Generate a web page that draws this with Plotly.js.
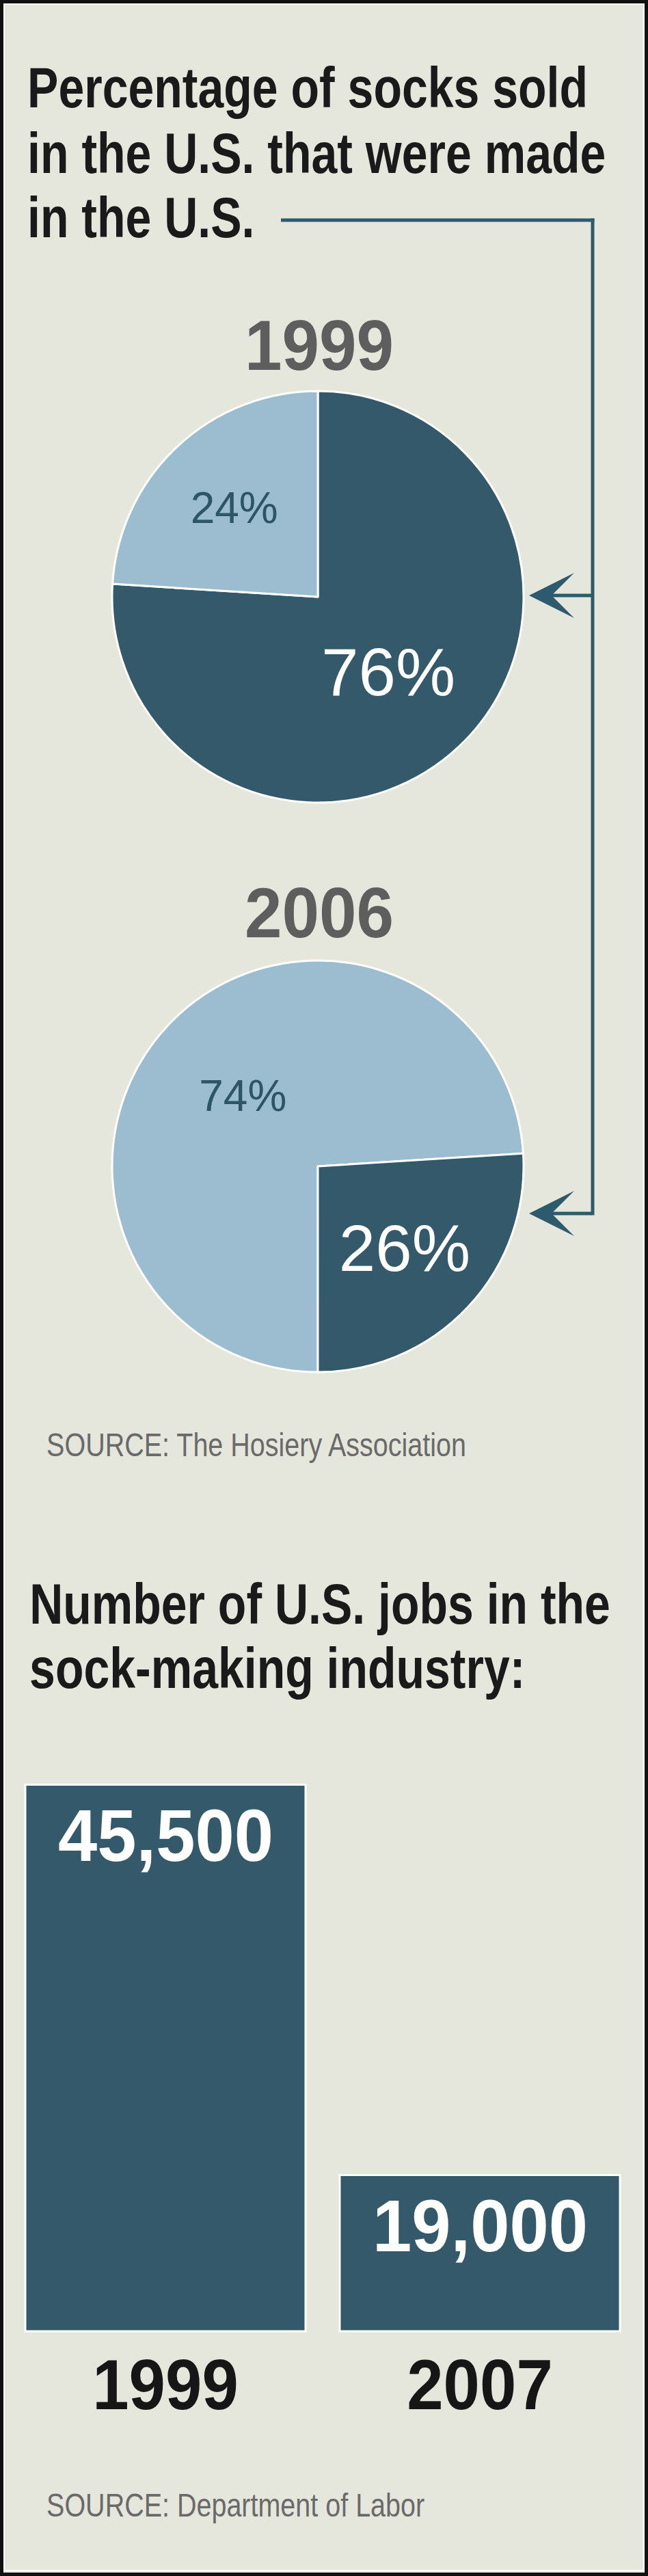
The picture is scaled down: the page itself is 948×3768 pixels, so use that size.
<!DOCTYPE html>
<html>
<head>
<meta charset="utf-8">
<script src="https://cdn.plot.ly/plotly-3.0.1.min.js"></script>
<style>
html,body{margin:0;padding:0;background:#e5e6dc;}
#chart{width:948px;height:3768px;}
</style>
</head>
<body>
<div id="chart"></div>
<script>
// ---------- data ----------
const pieLabels = ['Made in the U.S.', 'Imported'];
const pie1999 = [76, 24];
const pie2006 = [26, 74];
const pieYears = ['1999', '2006'];
const jobYears = ['1999', '2007'];
const jobs = [45500, 19000];
const jobLabels = ['45,500', '19,000'];
const title1Lines = ['Percentage of socks sold', 'in the U.S. that were made', 'in the U.S.'];
const title2Lines = ['Number of U.S. jobs in the', 'sock-making industry:'];
const source1 = 'SOURCE: The Hosiery Association';
const source2 = 'SOURCE: Department of Labor';

// ---------- styling ----------
const W = 948, H = 3768;
const X = p => p / W;
const Y = p => 1 - p / H;
const BG = '#e5e6dc';
const DARK = '#33596a';
const LIGHT = '#9bbdcf';
const LINE = '#2d5a6d';
const SANS = 'Liberation Sans, Arial, sans-serif';
const BAR_BASE = 8400; // truncated axis floor, as in the original graphic

const pieCommon = {
  type: 'pie', sort: false,
  textinfo: 'percent', textposition: 'inside', insidetextorientation: 'horizontal',
  hoverinfo: 'none', showlegend: false
};

const traces = [
  Object.assign({}, pieCommon, {
    labels: pieLabels, values: pie1999, rotation: 0, direction: 'clockwise',
    marker: {colors: [DARK, LIGHT], line: {color: '#ffffff', width: 3}},
    domain: {x: [X(164), X(766)], y: [Y(1174), Y(572)]},
    textfont: {family: SANS, size: [98, 64], color: ['#ffffff', '#2e5566']}
  }),
  Object.assign({}, pieCommon, {
    labels: pieLabels.slice().reverse(), values: pie2006.slice().reverse(),
    rotation: 180, direction: 'counterclockwise',
    marker: {colors: [LIGHT, DARK], line: {color: '#ffffff', width: 3}},
    domain: {x: [X(164), X(766)], y: [Y(2008), Y(1404)]},
    textfont: {family: SANS, size: [64, 96], color: ['#2e5566', '#ffffff']}
  }),
  {
    type: 'bar', x: jobYears, y: jobs.map(v => v - BAR_BASE), base: BAR_BASE,
    marker: {color: DARK, line: {color: '#ffffff', width: 3}},
    hoverinfo: 'none', textposition: 'none', xaxis: 'x', yaxis: 'y'
  }
];

// annotations; stretchS = vertical stretch giving the condensed-type look
const annotations = [];
const stretchS = [];
function txt(text, xpx, ypx, font, opts, s) {
  annotations.push(Object.assign({
    xref: 'paper', yref: 'paper', x: X(xpx), y: Y(ypx), text: text,
    showarrow: false, xanchor: 'left', yanchor: 'bottom', borderpad: 0, borderwidth: 0,
    font: font
  }, opts || {}));
  stretchS.push(s || 1);
}
const TS = 68;
const titleFont = {family: SANS, size: TS, color: '#1a1a1a', weight: 700};
// title 1 (baselines 157, 253, 347)
const t1Base = [157, 253, 347];
title1Lines.forEach((l, i) => txt(l, 40, t1Base[i] + 0.212 * TS, titleFont, null, 1.22));
// title 2
const t2Base = [2375, 2469];
title2Lines.forEach((l, i) => txt(l, 43, t2Base[i] + 0.212 * TS, titleFont, null, 1.22));
// pie year headings
const YS = 98;
const yearBase = [541, 1371];
pieYears.forEach((l, i) => txt(l, 467, yearBase[i] + 0.212 * YS,
  {family: SANS, size: YS, color: '#5e5e5e', weight: 700}, {xanchor: 'center'}, 1.064));
// sources
const SS = 39.5;
const srcFont = {family: SANS, size: SS, color: '#6a6a6a', weight: 400};
txt(source1, 68, 2130 + 0.212 * SS, srcFont, null, 1.22);
txt(source2, 68, 3681 + 0.212 * SS, srcFont, null, 1.22);
// bar value labels
jobYears.forEach((yr, i) => {
  annotations.push({
    xref: 'x', yref: 'y', x: i, y: jobs[i], text: jobLabels[i], showarrow: false,
    xanchor: 'center', yanchor: 'top', yshift: -17.5, borderpad: 0,
    font: {family: SANS, size: 103, color: '#ffffff', weight: 700}
  });
  stretchS.push(1.047);
});
// arrows pointing at the "made in U.S." slices
[871, 1775].forEach(yy => {
  annotations.push({
    xref: 'paper', yref: 'paper', x: X(774), y: Y(yy), ax: 93, ay: 0, text: '',
    showarrow: true, arrowhead: 3, arrowsize: 2.2, arrowwidth: 5, arrowcolor: LINE, standoff: 0
  });
  stretchS.push(1);
});

const shapes = [
  {type: 'line', xref: 'paper', yref: 'paper', x0: X(411), x1: X(869.5), y0: Y(322), y1: Y(322), line: {color: LINE, width: 5}},
  {type: 'line', xref: 'paper', yref: 'paper', x0: X(867), x1: X(867), y0: Y(319.5), y1: Y(1777.5), line: {color: LINE, width: 5}},
  {type: 'rect', xref: 'paper', yref: 'paper', x0: X(6), x1: X(942), y0: Y(3760), y1: Y(6), line: {color: '#ffffff', width: 2}},
  {type: 'rect', xref: 'paper', yref: 'paper', x0: 0, x1: 1, y0: 0, y1: 1, line: {color: '#111111', width: 10}}
];

const layout = {
  width: W, height: H, margin: {l: 0, r: 0, t: 0, b: 0, pad: 0},
  paper_bgcolor: BG, plot_bgcolor: 'rgba(0,0,0,0)', showlegend: false,
  xaxis: {domain: [X(12), X(932)], type: 'category', range: [-0.5, 1.5], autorange: false,
    showgrid: false, zeroline: false, showline: false,
    ticks: '', ticklabelstandoff: 11, tickfont: {family: SANS, size: 96, color: '#161616', weight: 700}, fixedrange: true},
  yaxis: {domain: [Y(3416), Y(2600)], range: [8122, 45993], autorange: false, visible: false, fixedrange: true},
  bargap: 50 / 460,
  annotations: annotations, shapes: shapes
};

// stretch lettering vertically about its baseline (condensed newspaper type), text stays text
function stretch(t, s) {
  if (!s || s === 1) return;
  const bb = t.getBBox();
  if (!bb.height) return;
  const base = bb.y + bb.height * (0.905 / 1.117);
  const old = t.getAttribute('transform');
  t.setAttribute('transform', (old ? old + ' ' : '') +
    'translate(0 ' + (base * (1 - s)) + ') scale(1 ' + s + ')');
}

Plotly.newPlot('chart', traces, layout, {staticPlot: true, displayModeBar: false}).then(gd => {
  gd.querySelectorAll('g.annotation').forEach(g => {
    const i = +g.getAttribute('data-index');
    const t = g.querySelector('text.annotation-text');
    if (t) stretch(t, stretchS[i]);
  });
  gd.querySelectorAll('g.xtick text').forEach(t => stretch(t, 1.087));
});
</script>
</body>
</html>
